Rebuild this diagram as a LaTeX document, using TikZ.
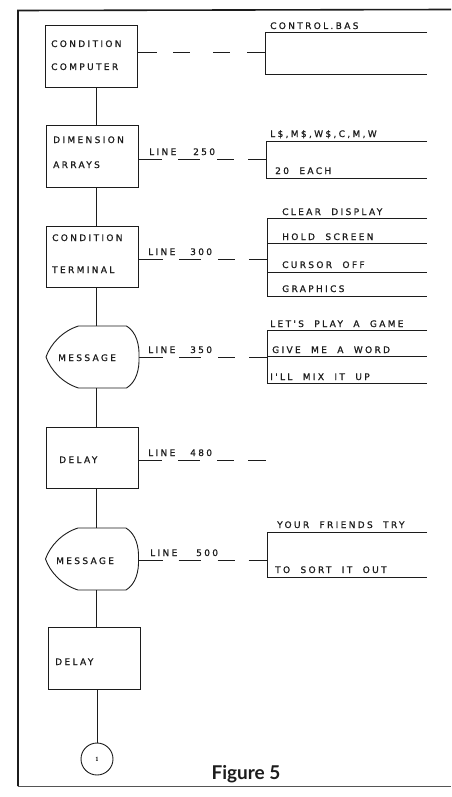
\documentclass[tikz,border=0pt]{standalone}
\usepackage{fontspec}
\newfontfamily\lett[LetterSpace=26,WordSpace=2,FakeBold=0.8]{DejaVu Sans}
\newfontfamily\figfont{Lato}
\definecolor{ink}{HTML}{1C1C1C}
\tikzset{
  ln/.style={draw=ink,line width=0.9pt},
  stepbox/.style={draw=ink,line width=0.9pt,rectangle,inner sep=0,minimum width=92pt,minimum height=62pt},
  msgnode/.style={rectangle,inner sep=0,minimum width=93pt,minimum height=62pt},
  lt/.style={font=\lett\fontsize{9}{10}\selectfont,text=ink,inner sep=0,anchor=base west},
  dashrow/.style={ln,dash pattern=on 24pt off 16pt on 22pt off 17pt on 17pt off 14pt on 18pt},
  msgshape/.pic={\draw[ln] (-14,-31) -- (34,-31) .. controls (44,-25) and (47,-12) .. (46.5,0)
      .. controls (47,12) and (44,25) .. (34,31) -- (-14,31)
      .. controls (-30,26) and (-42,13) .. (-46.5,0)
      .. controls (-42,-13) and (-30,-26) .. (-14,-31) -- cycle;}
}
\begin{document}
\begin{tikzpicture}[x=1pt,y=-1pt]
\useasboundingbox (0,0) rectangle (451,797);
\fill[white] (0,0) rectangle (451,797);
% frame
\draw[ink,line width=1.6pt] (451,9.5) -- (18,10.5) -- (18,786);
\draw[ink!75,line width=0.8pt] (18,786) -- (451,786);

\coordinate (sp) at (96,0);

% boxes
\node[stepbox] (b1) at (91,56) {};
\node[stepbox] (b2) at (92,156) {};
\node[stepbox,minimum height=61pt] (b3) at (92.5,256.5) {};
\node[msgnode] (m1) at (92.5,357) {};
\pic at (m1.center) {msgshape};
\node[stepbox,minimum height=61pt] (b4) at (92,457.5) {};
\node[msgnode] (m2) at (92,559) {};
\pic at (m2.center) {msgshape};
\node[stepbox] (b5) at (94,658) {};
\node[draw=ink,circle,line width=0.9pt,minimum size=32pt,inner sep=0,
      font=\sffamily\bfseries\fontsize{6}{6}\selectfont] (c1) at (97,759) {1};

% box texts
\node[lt] (t1a) at (51,47) {CONDITION};
\node[lt] (t1b) at (51,70) {COMPUTER};
\node[lt] (t2a) at (53,143) {DIMENSION};
\node[lt] (t2b) at (53,168) {ARRAYS};
\node[lt] (t3a) at (52,241) {CONDITION};
\node[lt] (t3b) at (52,273) {TERMINAL};
\node[lt] (tm1) at (58,361) {MESSAGE};
\node[lt] (t4) at (59,463) {DELAY};
\node[lt] (tm2) at (56,564) {MESSAGE};
\node[lt] (t5) at (55,665) {DELAY};

% spine
\draw[ln] (b1.south -| sp) -- (b2.north -| sp);
\draw[ln] (b2.south -| sp) -- (b3.north -| sp);
\draw[ln] (b3.south -| sp) -- (m1.north -| sp);
\draw[ln] (m1.south -| sp) -- (b4.north -| sp);
\draw[ln] (b4.south -| sp) -- (m2.north -| sp);
\draw[ln] (m2.south -| sp) -- (b5.north -| sp);
\draw[ln] (b5.south -| c1) -- (c1.north);

% bracket junctions
\coordinate (k1) at (265,52);
\coordinate (k2) at (266,159);
\coordinate (k3) at (267,259);
\coordinate (k35) at (267,357);
\coordinate (k4) at (267,460);
\coordinate (k5) at (267,560);

% dashed connectors
\draw[ln,dash pattern=on 20pt off 16pt on 17pt off 23pt on 17pt off 17pt on 18pt] (b1.east |- k1) -- (k1);
\draw[dashrow] (b2.east |- k2) -- (k2);
\draw[dashrow] (b3.east |- k3) -- (k3);
\draw[dashrow] (m1.east |- k35) -- (k35);
\draw[dashrow] (b4.east |- k4) -- (k4);
\draw[dashrow] (m2.east |- k5) -- (k5);

% line labels
\node[lt] (l2a) at (149,155) {LINE};
\node[lt] (l2b) at (193,155) {250};
\node[lt] (l3a) at (148,255) {LINE};
\node[lt] (l3b) at (190,255) {300};
\node[lt] (l35a) at (148,353) {LINE};
\node[lt] (l35b) at (190,353) {350};
\node[lt] (l4a) at (148,456) {LINE};
\node[lt] (l4b) at (190,456) {480};
\node[lt] (l5a) at (150,556) {LINE};
\node[lt] (l5b) at (196,556) {500};

% brackets
\draw[ln] (427,32) -- (265,32) -- (265,74) -- (427,74);
\draw[ln] (427,141) -- (266,141) -- (266,178) -- (427,178);
\draw[ln] (427,218) -- (267,218) -- (267,296) -- (427,296);
\draw[ln] (267,243) -- (427,243);
\draw[ln] (267,272) -- (427,272);
\draw[ln] (427,330) -- (267,330) -- (267,383) -- (427,383);
\draw[ln] (267,356) -- (427,356);
\draw[ln] (427,532) -- (267,532) -- (267,577) -- (427,577);

% bracket texts
\node[lt] (r1) at (270,29) {CONTROL.BAS};
\node[lt] (r2a) at (270,137) {L\$,M\$,W\$,C,M,W};
\node[lt] (r2b) at (275,174) {20 EACH};
\node[lt] (r3a) at (282,215) {CLEAR DISPLAY};
\node[lt] (r3b) at (282,240) {HOLD SCREEN};
\node[lt] (r3c) at (282,268) {CURSOR OFF};
\node[lt] (r3d) at (282,292) {GRAPHICS};
\node[lt] (r4a) at (270,327) {LET'S PLAY A GAME};
\node[lt] (r4b) at (272,353) {GIVE ME A WORD};
\node[lt] (r4c) at (270,380) {I'LL MIX IT UP};
\node[lt] (r5a) at (277,528) {YOUR FRIENDS TRY};
\node[lt] (r5b) at (275,573) {TO SORT IT OUT};

\node[font=\figfont\bfseries\fontsize{19}{20}\selectfont,text=ink,anchor=base,inner sep=0] (fig) at (246,779) {Figure 5};
\end{tikzpicture}
\end{document}
